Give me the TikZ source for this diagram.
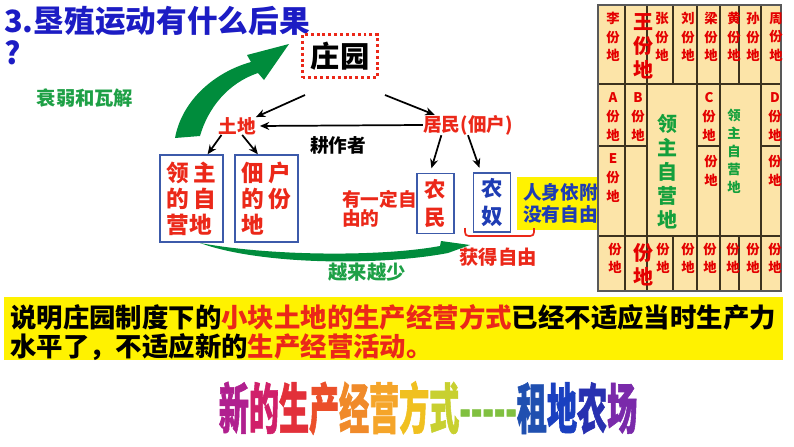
\documentclass[tikz,border=0pt]{standalone}
\usepackage{fontspec}
\setmainfont{Noto Sans CJK SC}
\newfontfamily\slimfont{Noto Sans CJK SC}[FakeStretch=0.55, FakeBold=1]
\usetikzlibrary{arrows.meta}
\usepackage{xcolor}

\definecolor{titleblue}{RGB}{28,28,196}
\definecolor{txtred}{RGB}{235,40,25}
\definecolor{txtgreen}{RGB}{30,160,70}
\definecolor{boxblue}{RGB}{60,90,170}
\definecolor{serfblue}{RGB}{30,60,180}
\definecolor{arcgreen}{RGB}{0,140,60}
\definecolor{wheat}{RGB}{252,228,168}
\definecolor{gridred}{RGB}{228,0,0}
\definecolor{gridgreen}{RGB}{20,160,60}
\definecolor{gridline}{RGB}{60,50,30}
% colours of the closing slogan
\definecolor{sA}{RGB}{176,32,143}
\definecolor{sB}{RGB}{208,32,106}
\definecolor{sC}{RGB}{226,48,58}
\definecolor{sD}{RGB}{235,79,42}
\definecolor{sE}{RGB}{240,138,42}
\definecolor{sF}{RGB}{245,165,42}
\definecolor{sG}{RGB}{240,192,32}
\definecolor{sH}{RGB}{200,208,48}
\definecolor{sI}{RGB}{128,192,64}
\definecolor{sJ}{RGB}{32,80,176}
\definecolor{sK}{RGB}{26,64,192}
\definecolor{sL}{RGB}{40,48,176}
\definecolor{sM}{RGB}{122,42,170}

\begin{document}
\begin{tikzpicture}[
    x=0.75pt, y=-0.75pt,  % one unit = one pixel of the slide
    >=Stealth,
    arrow/.style = {line width=1.3pt, -{Stealth[length=7pt,width=6pt]}},
    redtxt/.style = {
        text = txtred, inner sep = 0pt,
        font = \bfseries\fontsize{14}{16}\selectfont
    },
    greentxt/.style = {
        text = txtgreen, inner sep = 0pt,
        font = \bfseries\fontsize{14.5}{16}\selectfont
    },
    landbox/.style = {
        rectangle, draw = boxblue, line width = 1.1pt,
        minimum width = 47.25pt, minimum height = 65.25pt,
        align = left, inner sep = 0pt, text = txtred,
        font = \bfseries\fontsize{17}{19.5}\selectfont
    },
    peasantbox/.style = {
        rectangle, draw = boxblue, line width = 1.1pt, fill = white,
        minimum width = 28pt, minimum height = 45pt,
        align = center, inner sep = 0pt,
        font = \bfseries\fontsize{16}{21}\selectfont
    },
    cellred/.style = {
        text = gridred, align = center, inner sep = 0pt,
        font = \bfseries\fontsize{10}{14}\selectfont
    },
    cellbig/.style = {
        text = gridred, align = center, inner sep = 0pt,
        font = \bfseries\fontsize{15}{18}\selectfont
    },
    cellgreen/.style = {
        text = gridgreen, align = center, inner sep = 0pt,
        font = \bfseries\fontsize{15}{18}\selectfont
    },
    cellgreensm/.style = {
        text = gridgreen, align = center, inner sep = 0pt,
        font = \bfseries\fontsize{10}{13.5}\selectfont
    },
    gridrule/.style = {draw = gridline, line width = 0.8pt}
]
\useasboundingbox (0,0) rectangle (794,447);

% --- Title and the green decline arrow ---
\node[anchor = north west, inner sep = 0pt, align = left, text = titleblue,
      font = \bfseries\fontsize{23}{24}\selectfont] (title) at (4,6)
      {3.垦殖运动有什么后果\\?};

\node[greentxt] (shuairuo) at (85,98) {衰弱和瓦解};

\fill[arcgreen] (175,138) .. controls (182,100) and (215,72) .. (251,62)
    -- (247,55) -- (289,44) -- (264,80) -- (258,73)
    .. controls (228,83) and (208,108) .. (200,136) -- cycle;

% --- Manor and its two parts ---
\node[draw = txtred, line width = 2.2pt, dash pattern = on 2.2pt off 2.2pt,
      minimum width = 56.25pt, minimum height = 32.25pt, inner sep = 0pt,
      font = \bfseries\fontsize{22}{24}\selectfont] (zhuangyuan) at (340,56) {庄园};

\node[redtxt] (tudi)  at (237,126) {土地};
\node[redtxt] (jumin) at (468,125) {居民(佃户)};
\node[inner sep = 0pt, font = \bfseries\fontsize{14}{16}\selectfont] (gengzuo) at (338,145) {耕作者};

\coordinate (zyL) at (305,95);
\coordinate (zyR) at (385,95);

\draw[arrow] (zyL) -- (tudi.north east);
\draw[arrow] (zyR) -- (jumin.163);
\draw[arrow, shorten >= 3pt] (jumin.west) -- (tudi.east);

% --- Land ---
\node[landbox] (lingzhu) at (191.5,198.5) {领\,主\\的\,自\\营地};
\node[landbox] (dianhu)  at (266.5,198.5) {佃\,户\\的\,份\\地};

\draw[arrow] (tudi.-150) -- (lingzhu.70);
\draw[arrow] (tudi.-60)  -- (dianhu.101);

% --- Residents ---
\node[redtxt, anchor = west, align = left, font = \bfseries\fontsize{14}{14.5}\selectfont]
      (youding) at (342,209) {有一定自\\由的};

\node[fill = yellow, anchor = west, minimum height = 39.75pt,
      inner xsep = 4.5pt, inner ysep = 0pt, text width = 58pt, align = left,
      text = serfblue, font = \bfseries\fontsize{14}{17}\selectfont]
      (yifu) at (517,203.5) {人身依附\\没有自由};

\node[peasantbox, text = txtred] (nongmin) at (435.5,203.5) {农\\民};
\node[peasantbox, text = serfblue, minimum height = 44.25pt] (nongnu) at (492,202.5) {农\\奴};

\draw[arrow, shorten >= 3.5pt] (jumin.-159) -- (nongmin.100);
\draw[arrow, shorten >= 3.5pt] (jumin.south) -- (nongnu.110);

\draw[txtred, line width = 1.3pt] (465,228) .. controls (465,236) .. (473,236)
    -- (526,236) .. controls (534,236) .. (534,228);
\node[redtxt, font = \bfseries\fontsize{14.5}{16}\selectfont] (huode) at (498,257) {获得自由};

\fill[arcgreen] (200,243) .. controls (270,256) and (380,257) .. (440,246)
    -- (441,241) -- (470,245) -- (448,253)
    .. controls (380,266) and (260,265) .. (200,243) -- cycle;
\node[greentxt] (yuelai) at (367,272) {越来越少};

% --- Plan of the manor fields ---
\fill[wheat] (598,5) rectangle (781,291);
\draw[gridrule] (598,84) -- (781,84);
\draw[gridrule] (598,236) -- (781,236);
\draw[gridrule] (598,146) -- (647,146);
\draw[gridrule] (697,146) -- (720,146);
\draw[gridrule] (761,146) -- (781,146);
\draw[gridrule] (625,5) -- (625,291);
\draw[gridrule] (647,5) -- (647,291);
\draw[gridrule] (697,5) -- (697,291);
\draw[gridrule] (720,5) -- (720,291);
\draw[gridrule] (761,5) -- (761,291);
\draw[gridrule] (673,5) -- (673,84);
\draw[gridrule] (673,236) -- (673,291);
\draw[gridrule] (739,5) -- (739,84);
\draw[gridrule] (739,236) -- (739,291);
\draw[draw = gray!70!black, line width = 1.2pt] (598,5) rectangle (781,291);

\node[cellred] (li)    at (613,37) {李\\份\\地};
\node[cellbig] (wang)  at (643,46) {王\\份\\地};
\node[cellred] (zhang) at (662,37) {张\\份\\地};
\node[cellred] (liu)   at (688,37) {刘\\份\\地};
\node[cellred] (liang) at (711,37) {梁\\份\\地};
\node[cellred] (huang) at (734,37) {黄\\份\\地};
\node[cellred] (sun)   at (753,37) {孙\\份\\地};
\node[cellred] (zhou)  at (776,37) {周\\份\\地};

\node[cellred] (pa) at (613,117) {A\\份\\地};
\node[cellred] (pb) at (638,117) {B\\份\\地};
\node[cellred] (pc) at (709,117) {C\\份\\地};
\node[cellred] (pd) at (775,117) {D\\份\\地};
\node[cellred] (pe) at (613,178) {E\\份\\地};
\node[cellred] (pf) at (711,171) {份\\地};
\node[cellred] (pg) at (775,171) {份\\地};

\node[cellgreen]   (demesneA) at (667,171.5) {领\\主\\自\\营\\地};
\node[cellgreensm] (demesneB) at (734,151)   {领\\主\\自\\营\\地};

\node[cellred] (q1) at (615,258.5) {份\\地};
\node[cellbig] (q2) at (643,265)   {份\\地};
\node[cellred] (q3) at (663,258.5) {份\\地};
\node[cellred] (q4) at (688,258.5) {份\\地};
\node[cellred] (q5) at (710,258.5) {份\\地};
\node[cellred] (q6) at (733,258.5) {份\\地};
\node[cellred] (q7) at (753,258.5) {份\\地};
\node[cellred] (q8) at (775,258.5) {份\\地};

% --- Conclusion banner ---
\fill[yellow] (4,297) rectangle (783,360);
\node[anchor = west, align = left, inner sep = 0pt,
      font = \bfseries\fontsize{19.8}{22}\selectfont] (shuoming) at (10,332.5)
      {说明庄园制度下的\textcolor{txtred}{小块土地的生产经营方式}已经不适应当时生产力\\
       水平了，不适应新的\textcolor{txtred}{生产经营活动。}};

% --- New mode of production ---
\node[inner sep = 0pt, font = \slimfont\bfseries\fontsize{41}{41}\selectfont] (zudi) at (428,408)
      {\textcolor{sA}{新}\textcolor{sB}{的}\textcolor{sC}{生}\textcolor{sD}{产}%
       \textcolor{sE}{经}\textcolor{sF}{营}\textcolor{sG}{方}\textcolor{sH}{式}%
       \textcolor{sI}{-----}\textcolor{sJ}{租}\textcolor{sK}{地}\textcolor{sL}{农}\textcolor{sM}{场}};

\end{tikzpicture}
\end{document}
